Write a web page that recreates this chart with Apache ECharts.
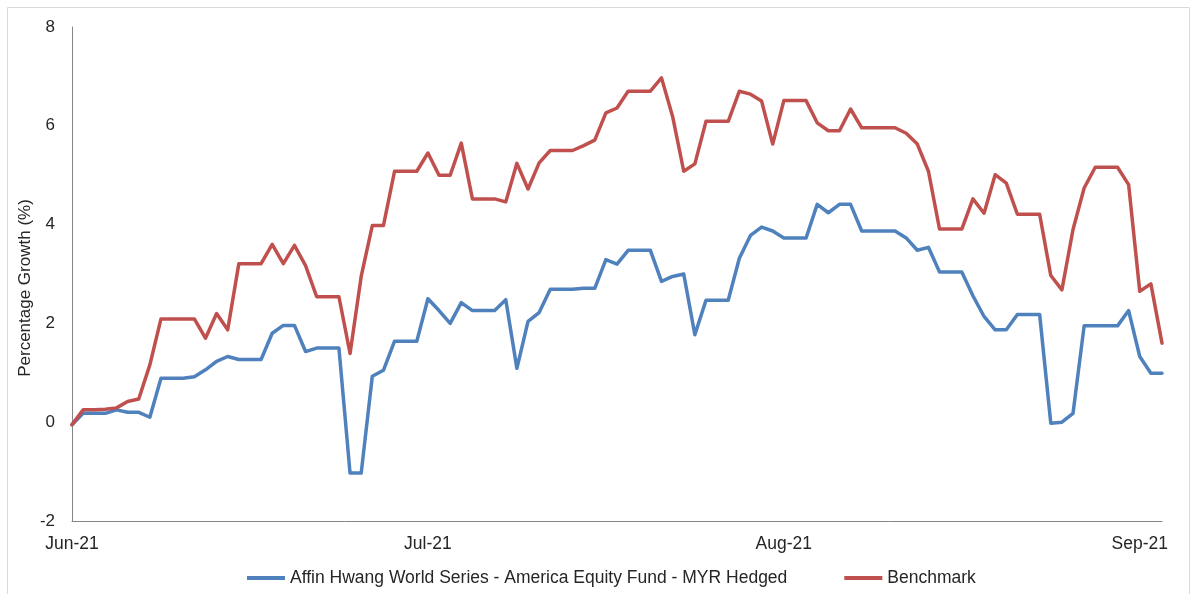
<!DOCTYPE html>
<html>
<head>
<meta charset="utf-8">
<script src="https://cdn.jsdelivr.net/npm/echarts@6/dist/echarts.min.js"></script>
<style>
html,body{margin:0;padding:0;background:#fff;}
#chart{width:1197px;height:594px;}
</style>
</head>
<body>
<div id="chart"></div>
<script>
const dates = [
'2021-06-03','2021-06-04','2021-06-05','2021-06-06','2021-06-07','2021-06-08','2021-06-09','2021-06-10','2021-06-11','2021-06-12',
'2021-06-13','2021-06-14','2021-06-15','2021-06-16','2021-06-17','2021-06-18','2021-06-19','2021-06-20','2021-06-21','2021-06-22',
'2021-06-23','2021-06-24','2021-06-25','2021-06-26','2021-06-27','2021-06-28','2021-06-29','2021-06-30',
'2021-07-01','2021-07-02','2021-07-03','2021-07-04','2021-07-05','2021-07-06','2021-07-07','2021-07-08','2021-07-09','2021-07-10',
'2021-07-11','2021-07-12','2021-07-13','2021-07-14','2021-07-15','2021-07-16','2021-07-17','2021-07-18','2021-07-19','2021-07-20',
'2021-07-21','2021-07-22','2021-07-23','2021-07-24','2021-07-25','2021-07-26','2021-07-27','2021-07-28','2021-07-29','2021-07-30','2021-07-31',
'2021-08-01','2021-08-02','2021-08-03','2021-08-04','2021-08-05','2021-08-06','2021-08-07','2021-08-08','2021-08-09','2021-08-10',
'2021-08-11','2021-08-12','2021-08-13','2021-08-14','2021-08-15','2021-08-16','2021-08-17','2021-08-18','2021-08-19','2021-08-20',
'2021-08-21','2021-08-22','2021-08-23','2021-08-24','2021-08-25','2021-08-26','2021-08-27','2021-08-28','2021-08-29','2021-08-30','2021-08-31',
'2021-09-01','2021-09-02','2021-09-03','2021-09-04','2021-09-05','2021-09-06','2021-09-07','2021-09-08','2021-09-09'
];

const fundName = 'Affin Hwang World Series - America Equity Fund - MYR Hedged';
const benchName = 'Benchmark';

const fundValues = [
-0.05,0.18,0.18,0.18,0.25,0.20,0.20,0.10,0.89,0.89,
0.89,0.92,1.06,1.23,1.33,1.27,1.27,1.27,1.80,1.96,
1.96,1.43,1.50,1.50,1.50,-1.03,-1.03,0.93,1.05,1.64,
1.64,1.64,2.50,2.26,2.00,2.42,2.26,2.26,2.26,2.48,
1.09,2.04,2.22,2.69,2.69,2.69,2.71,2.71,3.29,3.20,
3.48,3.48,3.48,2.85,2.95,3.00,1.77,2.47,2.47,2.47,
3.32,3.78,3.95,3.87,3.73,3.73,3.73,4.41,4.24,4.41,
4.41,3.87,3.87,3.87,3.87,3.73,3.48,3.54,3.04,3.04,
3.04,2.56,2.14,1.87,1.87,2.18,2.18,2.18,-0.02,0.00,
0.18,1.95,1.95,1.95,1.95,2.26,1.33,0.99,0.99
];

const benchValues = [
-0.05,0.25,0.25,0.26,0.29,0.42,0.47,1.16,2.09,2.09,
2.09,2.09,1.70,2.20,1.87,3.21,3.21,3.21,3.60,3.21,
3.58,3.17,2.54,2.54,2.54,1.39,2.95,3.98,3.98,5.08,
5.08,5.08,5.45,5.00,5.00,5.65,4.52,4.52,4.52,4.46,
5.24,4.72,5.25,5.50,5.50,5.50,5.60,5.71,6.26,6.36,
6.70,6.70,6.70,6.97,6.19,5.08,5.23,6.09,6.09,6.09,
6.70,6.64,6.50,5.63,6.51,6.51,6.51,6.06,5.90,5.90,
6.34,5.96,5.96,5.96,5.96,5.85,5.63,5.08,3.91,3.91,
3.91,4.52,4.23,5.01,4.84,4.21,4.21,4.21,2.97,2.68,
3.90,4.74,5.16,5.16,5.16,4.81,2.65,2.80,1.60
];

const monthAbbr = ['Jan','Feb','Mar','Apr','May','Jun','Jul','Aug','Sep','Oct','Nov','Dec'];
const yTitle = 'Percentage Growth (%)';

const FONT = "'Liberation Sans', Arial, sans-serif";
const TXT = '#262626';

const chart = echarts.init(document.getElementById('chart'), null, {renderer: 'canvas'});
chart.setOption({
  backgroundColor: '#ffffff',
  animation: false,
  textStyle: {fontFamily: FONT},
  graphic: [
    {type: 'rect', shape: {x: 7.5, y: 7.5, width: 1182, height: 600},
     style: {fill: 'none', stroke: '#d9d9d9', lineWidth: 1}, silent: true},
    {type: 'text', x: 25, y: 288, rotation: Math.PI / 2,
     style: {text: yTitle, fill: TXT, font: "17px 'Liberation Sans', Arial, sans-serif",
             align: 'center', verticalAlign: 'middle'}}
  ],
  grid: {left: 72, right: 35, top: 27, bottom: 73, containLabel: false},
  legend: {
    left: 242, top: 564,
    itemWidth: 38, itemHeight: 4, itemGap: 57,
    icon: 'rect',
    textStyle: {fontFamily: FONT, fontSize: 17.5, color: TXT},
    data: [fundName, benchName]
  },
  xAxis: {
    type: 'category',
    data: dates,
    boundaryGap: false,
    axisLine: {show: true, onZero: false, lineStyle: {color: '#868686', width: 1}},
    axisTick: {show: false},
    splitLine: {show: false},
    axisLabel: {
      interval: 31,
      margin: 14,
      color: TXT,
      fontFamily: FONT,
      fontSize: 17.5,
      formatter: function (v) {
        const p = v.split('-');
        return monthAbbr[parseInt(p[1], 10) - 1] + '-' + p[0].slice(2);
      }
    }
  },
  yAxis: {
    type: 'value',
    min: -2, max: 8, interval: 2,
    axisLine: {show: true, lineStyle: {color: '#868686', width: 1}},
    axisTick: {show: false},
    splitLine: {show: false},
    axisLabel: {margin: 17, color: TXT, fontFamily: FONT, fontSize: 17}
  },
  series: [
    {name: fundName, type: 'line', data: fundValues, symbol: 'none',
     lineStyle: {color: '#4F81BD', width: 3.5, join: 'round', cap: 'round'},
     itemStyle: {color: '#4F81BD'}},
    {name: benchName, type: 'line', data: benchValues, symbol: 'none',
     lineStyle: {color: '#C0504D', width: 3.5, join: 'round', cap: 'round'},
     itemStyle: {color: '#C0504D'}}
  ]
});
</script>
</body>
</html>
